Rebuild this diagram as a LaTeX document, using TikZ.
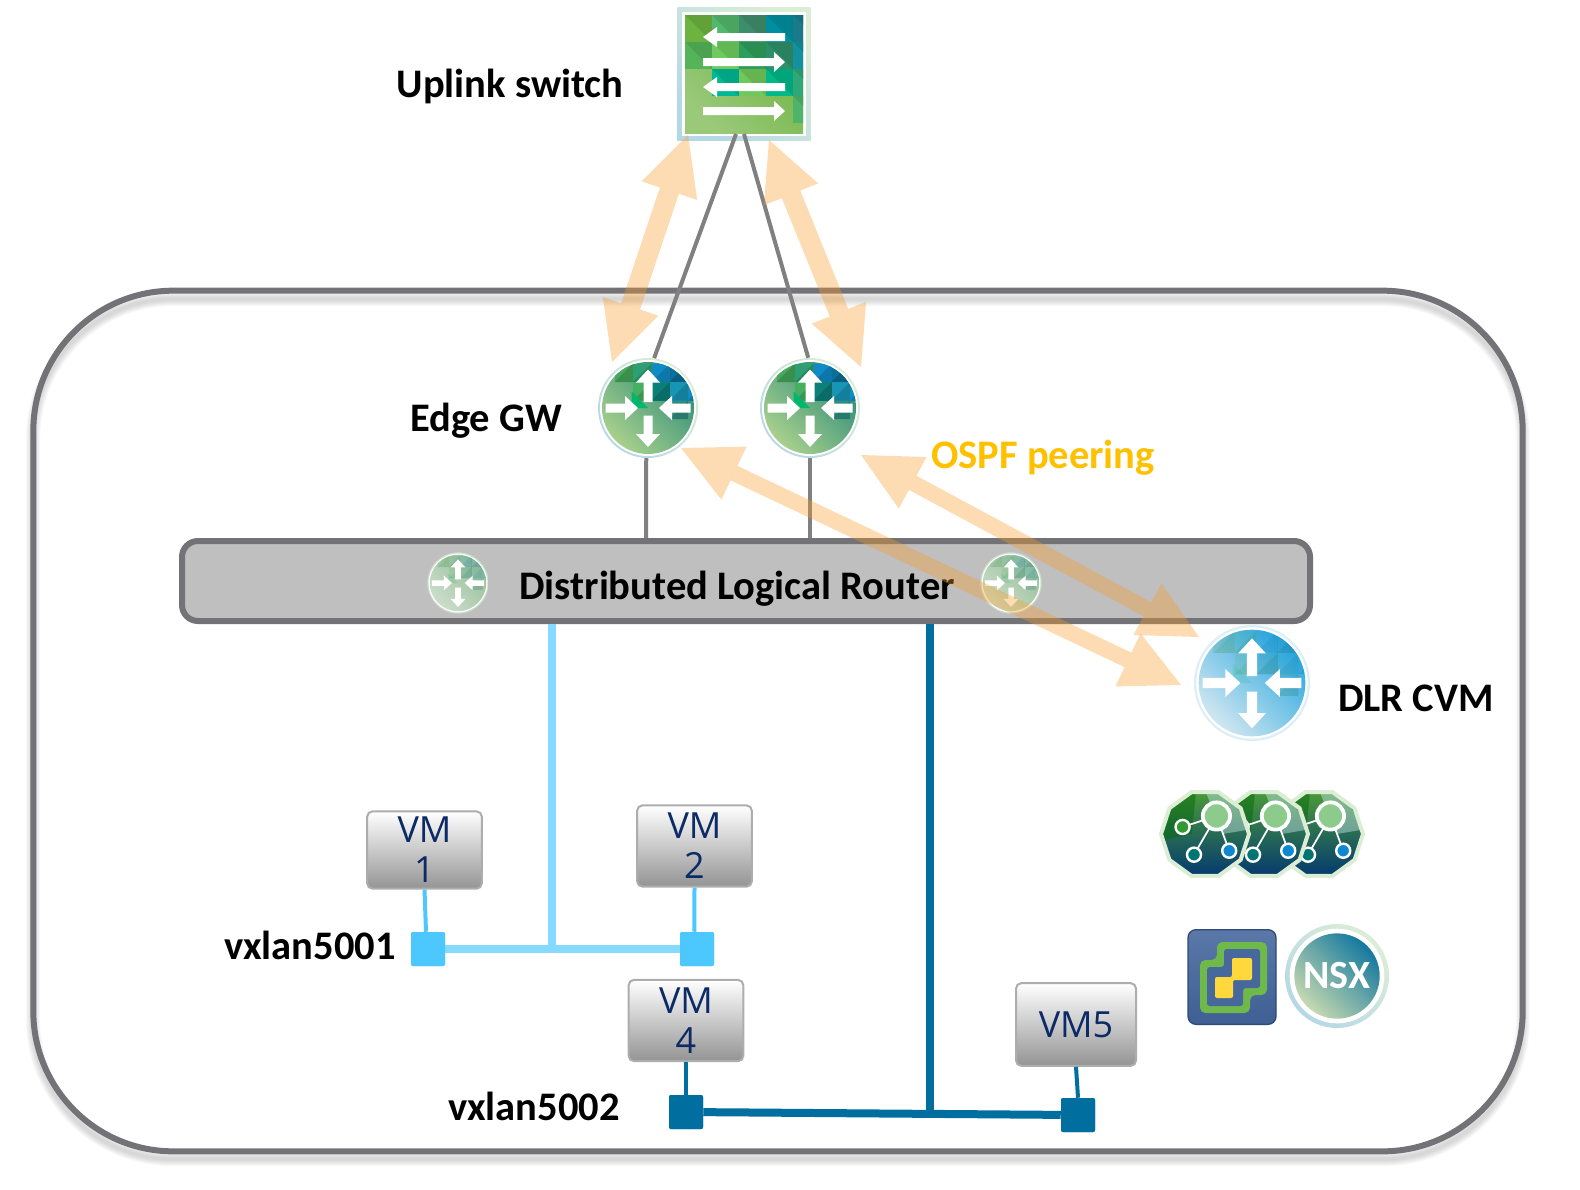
\documentclass[tikz,border=0pt]{standalone}
\usepackage{fontspec}
\setmainfont{Open Sans}
\newfontfamily\labelfont{Carlito}
\usetikzlibrary{arrows.meta,shapes.geometric}

\definecolor{frameGrey}{HTML}{737277}
\definecolor{wireGrey}{HTML}{808080}
\definecolor{boxGrey}{HTML}{BFBFBF}
\definecolor{peerOrange}{HTML}{F99B26}
\definecolor{ospfText}{HTML}{FFC000}
\definecolor{netLight}{HTML}{86D9FF}
\definecolor{portLight}{HTML}{4CC8FF}
\definecolor{netDark}{HTML}{006E9F}
\definecolor{vmText}{HTML}{0B2A66}
\definecolor{gwLow}{HTML}{A8D08D}
\definecolor{gwMid}{HTML}{6DB33F}
\definecolor{gwTop}{HTML}{2E8C78}
\definecolor{nsxTop}{HTML}{14789F}
\definecolor{nsxLow}{HTML}{C5D9B0}
\definecolor{ringBlue}{HTML}{B5D8E6}
\definecolor{ringGreen}{HTML}{DCEDD6}
\definecolor{fadeLow}{HTML}{CBDDCB}
\definecolor{fadeMid}{HTML}{B9D4B9}
\definecolor{fadeTop}{HTML}{98BF98}
\definecolor{cvmLow}{HTML}{CFE6F0}
\definecolor{cvmMid}{HTML}{A8D8E8}
\definecolor{cvmTop}{HTML}{2CA8E0}
\definecolor{cvmRing}{HTML}{DDEFF6}
\definecolor{vcLight}{HTML}{5A78A8}
\definecolor{vcDark}{HTML}{3F5F94}
\definecolor{vcInner}{HTML}{47689C}
\definecolor{vcEdge}{HTML}{2F4A78}
\definecolor{vcGreen}{HTML}{6FB84A}
\definecolor{vcYellow}{HTML}{FFD93B}
\definecolor{clTop}{HTML}{4A9A3A}
\definecolor{clMid}{HTML}{147F85}
\definecolor{clLow}{HTML}{043A70}

\newcommand{\routerface}[5]{
    \begin{scope}[shift={(path picture bounding box.center)},x=0.5*#1,y=0.5*#1]
        \fill[white] (0,0) circle (0.96);
        \shade[left color=#2,middle color=#3,right color=#4,shading angle=135] (0,0) circle (0.92);
        \begin{scope}[opacity=#5]
            \clip (0,0) circle (0.92);
            \foreach \mx/\my/\mc in {-0.67/0.52/46A85A,-0.3/0.52/2E9F72,0.07/0.52/0F8CC8,0.43/0.52/0A6F99,
                                     -0.3/0.15/45B060,0.07/0.15/0B7F78,0.43/0.15/1895B5,0.8/0.15/0F8CC2,0.43/-0.22/2F8F7F}{
                \definecolor{mosaic}{HTML}{\mc}
                \fill[mosaic] (\mx,\my) rectangle ++(0.37,0.37);
                \fill[mosaic!85!black] (\mx,\my) -- ++(0.37,0) -- ++(0,0.37) -- cycle;
            }
            \definecolor{mosaic}{HTML}{00B86B}
            \fill[mosaic] (-0.33,0.33) -- (0,0) -- (-0.33,0) -- cycle;
        \end{scope}
        \fill[white] (-0.85,-0.09) -- (-0.46,-0.09) -- (-0.46,-0.24) -- (-0.2,0) -- (-0.46,0.24) -- (-0.46,0.09) -- (-0.85,0.09) -- cycle;
        \fill[white] (0.85,-0.09) -- (0.48,-0.09) -- (0.48,-0.24) -- (0.22,0) -- (0.48,0.24) -- (0.48,0.09) -- (0.85,0.09) -- cycle;
        \fill[white] (-0.09,0.12) -- (-0.09,0.51) -- (-0.24,0.51) -- (0,0.77) -- (0.24,0.51) -- (0.09,0.51) -- (0.09,0.12) -- cycle;
        \fill[white] (-0.09,-0.15) -- (-0.09,-0.52) -- (-0.24,-0.52) -- (0,-0.78) -- (0.24,-0.52) -- (0.09,-0.52) -- (0.09,-0.15) -- cycle;
    \end{scope}
}
\newcommand{\clusterface}[1]{
    \begin{scope}[shift={(path picture bounding box.center)},x=0.5*#1,y=0.5*#1,white,line width=1.3pt]
        \fill[green!40!black,opacity=0.45] (-1,0.5) -- (-0.2,1) -- (-0.3,0) -- (-1,-0.15) -- cycle;
        \fill[cyan!15,opacity=0.4] (0,1) -- (0.6,0.85) -- (1,0.1) -- (0.4,0) -- cycle;
        \draw (0.26,0.41) -- (-0.51,0.16);
        \draw (0.26,0.41) -- (-0.25,-0.47);
        \draw (0.26,0.41) -- (0.55,-0.38);
        \fill[green!55!black!45!white,draw=white,line width=2.8pt] (0.26,0.41) circle (0.31);
        \fill[green!50!black!80!white,draw=white,line width=1.8pt] (-0.51,0.16) circle (0.16);
        \fill[teal!90!black,draw=white,line width=1.8pt] (-0.25,-0.47) circle (0.16);
        \fill[cyan!70!blue,draw=white,line width=1.8pt] (0.55,-0.38) circle (0.16);
    \end{scope}
}

\tikzset{
    x=0.75pt,y=-0.75pt,
    boldtext/.style={font=\labelfont\bfseries\fontsize{30.4pt}{32pt}\selectfont,anchor=base,inner sep=0},
    vmbox/.style={rectangle,rounded corners=4pt,draw=black!32,line width=1.5pt,top color=white,bottom color=black!42,
        text=vmText,align=center,inner sep=0,font=\fontsize{27pt}{30pt}\selectfont},
    port/.style={rectangle,rounded corners=1.5pt,inner sep=0,minimum size=25.5pt},
    wire/.style={draw=wireGrey,line width=3pt},
    peer/.style={draw=peerOrange,opacity=0.35,line width=#1,
        {Triangle[length=44pt,width=44pt,line width=0pt]}-{Triangle[length=44pt,width=44pt,line width=0pt]}},
    gwrouter/.style={circle,inner sep=0,minimum size=75pt,left color=ringBlue,right color=ringGreen,shading angle=135,
        path picture={\routerface{75pt}{gwLow}{gwMid}{gwTop}{1}}},
    fadedrouter/.style={circle,inner sep=0,minimum size=46pt,left color=fadeLow,right color=fadeLow,
        path picture={\routerface{46pt}{fadeLow}{fadeMid}{fadeTop}{0.15}}},
    cvmrouter/.style={circle,inner sep=0,minimum size=87pt,left color=cvmRing,right color=cvmRing,
        path picture={\routerface{87pt}{cvmLow}{cvmMid}{cvmTop}{0.15}}},
    clusternode/.style={regular polygon,regular polygon sides=10,inner sep=0,minimum size=66pt,draw=ringGreen,line width=3pt,
        top color=clTop,middle color=clMid,bottom color=clLow,
        path picture={\clusterface{66pt}}},
}

\begin{document}
\begin{tikzpicture}
    \useasboundingbox (0,0) rectangle (1580,1189);
    % outer frame
    \foreach \i in {1,...,7}{
        \draw[black,opacity=0.025,line width=1pt+\i*1.4pt,rounded corners=105pt] (33,299) rectangle (1523,1159);
    }
    \node[rectangle,draw=frameGrey,fill=none,line width=4.5pt,rounded corners=105pt,minimum width=1117pt,minimum height=645.5pt,inner sep=0] (frame) at (778,721) {};

    % uplink switch
    \node[rectangle,inner sep=0,minimum size=100pt,left color=ringBlue,right color=ringGreen,shading angle=135] (uplink) at (744,74) {};
    \fill[white] (682,12) rectangle (806,136);
    \shade[left color=gwLow!75!gwMid,middle color=gwMid,right color=gwMid,shading angle=135] (685,15) rectangle (803,133);
    \begin{scope}
        \clip (685,15) rectangle (803,133);
        \foreach \mx/\my/\mc in {0/0/6DB33F,1/0/52B86B,2/0/3F8E6B,3/0/008FA0,4/0/1A7A8A,
                                 0/1/55B45A,1/1/6FCB5F,2/1/2E9E5B,3/1/2E8F6B,4/1/1490A0,
                                 1/2/00B894,2/2/70C85A,3/2/00B888,4/2/2FA776,4/3/4FB36A}{
            \definecolor{mosaic}{HTML}{\mc}
            \fill[mosaic] (685+\mx*27,15+\my*27) rectangle ++(27,27);
            \fill[mosaic!90!black] (685+\mx*27,15+\my*27) -- ++(27,0) -- ++(0,27) -- cycle;
        }
    \end{scope}
    \fill[white] (785,33) -- (717,33) -- (717,27) -- (703,37) -- (717,47) -- (717,41) -- (785,41) -- cycle;
    \fill[white] (703,58) -- (774,58) -- (774,52) -- (785,62) -- (774,72) -- (774,66) -- (703,66) -- cycle;
    \fill[white] (785,83) -- (717,83) -- (717,77) -- (703,87) -- (717,97) -- (717,91) -- (785,91) -- cycle;
    \fill[white] (703,107) -- (774,107) -- (774,101) -- (785,111) -- (774,121) -- (774,115) -- (703,115) -- cycle;
    \node[boldtext] (uplinkText) at (510,97) {Uplink switch};

    % edge gateways
    \node[gwrouter] (gwOne) at (648,408) {};
    \node[gwrouter] (gwTwo) at (810,408) {};
    \node[boldtext] (gwText) at (486,431) {Edge GW};
    \coordinate (uplinkL) at (736,134);
    \coordinate (uplinkR) at (744,134);
    \draw[wire] (uplinkL) -- (gwOne.83);
    \draw[wire] (uplinkR) -- (gwTwo.92);

    % distributed router
    \draw[wire] (gwOne.268) -- (646,545);
    \draw[wire] (gwTwo.south) -- (810,545);
    \node[rectangle,draw=frameGrey,fill=boxGrey,line width=4.5pt,rounded corners=12pt,minimum width=846pt,minimum height=60pt,inner sep=0] (dlr) at (746,581) {};
    \node[fadedrouter] (dlrIconL) at (458,583) {};
    \node[fadedrouter] (dlrIconR) at (1011,583) {};
    \node[boldtext] (dlrText) at (737,599) {Distributed Logical Router};

    % control vm and logos
    \node[cvmrouter] (cvm) at (1252,683) {};
    \node[boldtext] (cvmText) at (1416,711) {DLR CVM};
    \node[clusternode] (clusterC) at (1319,834) {};
    \node[clusternode] (clusterB) at (1264,834) {};
    \node[clusternode] (clusterA) at (1205,834) {};
    \node[rectangle,rounded corners=6pt,inner sep=0,minimum width=66pt,minimum height=71pt,draw=vcEdge,line width=1pt,top color=vcLight,bottom color=vcDark] (vcenter) at (1232,977) {};
    \fill[vcGreen,rounded corners=4pt] (1217,942) -- (1267,942) -- (1267,995) -- (1250,995) -- (1250,1013) -- (1200,1013) -- (1200,960) -- (1217,960) -- cycle;
    \fill[vcInner,rounded corners=2pt] (1224,949) -- (1260,949) -- (1260,988) -- (1243,988) -- (1243,1006) -- (1207,1006) -- (1207,967) -- (1224,967) -- cycle;
    \fill[vcYellow,rounded corners=1.5pt] (1232,958) -- (1252,958) -- (1252,980) -- (1233,980) -- (1233,998) -- (1215,998) -- (1215,977) -- (1232,977) -- cycle;
    \node[circle,inner sep=0,minimum size=78pt,left color=ringBlue,right color=ringGreen,shading angle=135,text=white,
        font=\labelfont\bfseries\fontsize{30pt}{30pt}\selectfont,
        path picture={
            \fill[white] (path picture bounding box.center) circle (35.5pt);
            \shade[left color=nsxLow,middle color=gwMid,right color=nsxTop,shading angle=135] (path picture bounding box.center) circle (32pt);
        }] (nsx) at (1337,976) {NSX};

    % vxlan5001
    \node[vmbox,minimum width=86pt,minimum height=58pt] (vmOne) at (424.5,850) {VM\\1};
    \node[vmbox,minimum width=86pt,minimum height=61pt] (vmTwo) at (694.5,846) {VM\\2};
    \node[port,fill=portLight] (portOne) at (428,949) {};
    \node[port,fill=portLight] (portTwo) at (697,949) {};
    \coordinate (teeOne) at (552,949);
    \draw[netLight,line width=6pt] (portOne) -- (portTwo);
    \draw[netLight,line width=6pt] (dlr.south -| teeOne) -- (teeOne);
    \draw[portLight,line width=3pt] (vmOne.south) -- ([xshift=-1.5pt]portOne.north);
    \draw[portLight,line width=3pt] (vmTwo.south) -- ([xshift=-2pt]portTwo.north);
    \node[port,fill=portLight] (portOneTop) at (portOne) {};
    \node[port,fill=portLight] (portTwoTop) at (portTwo) {};
    \node[boldtext] (netOneText) at (310,959) {vxlan5001};

    % vxlan5002
    \node[vmbox,minimum width=86pt,minimum height=61pt] (vmFour) at (686,1020.5) {VM\\4};
    \node[vmbox,minimum width=90pt,minimum height=62pt] (vmFive) at (1076,1024.5) {VM5};
    \node[port,fill=netDark] (portFour) at (686,1112) {};
    \node[port,fill=netDark] (portFive) at (1078,1115) {};
    \coordinate (teeTwo) at (930,1113.5);
    \draw[netDark,line width=6pt] (portFour) -- (portFive);
    \draw[netDark,line width=5.5pt] (dlr.south -| teeTwo) -- (teeTwo);
    \draw[netDark,line width=3pt] (vmFour.south) -- (portFour.north);
    \draw[netDark,line width=3pt] (vmFive.south) -- (portFive.north);
    \node[port,fill=netDark] (portFourTop) at (portFour) {};
    \node[port,fill=netDark] (portFiveTop) at (portFive) {};
    \node[boldtext] (netTwoText) at (534,1120) {vxlan5002};

    % ospf peering
    \coordinate (peerUpA) at (688,135);
    \coordinate (peerGwA) at (612,362);
    \coordinate (peerUpB) at (769,140);
    \coordinate (peerGwB) at (861,367);
    \coordinate (peerGwC) at (681,448);
    \coordinate (peerCvmC) at (1181,685);
    \coordinate (peerGwD) at (861,455);
    \coordinate (peerCvmD) at (1199,637);
    \draw[peer=15pt] (peerUpA) -- (peerGwA);
    \draw[peer=15pt] (peerUpB) -- (peerGwB);
    \draw[peer=12pt] (peerGwC) -- (peerCvmC);
    \draw[peer=12pt] (peerGwD) -- (peerCvmD);
    \node[boldtext,text=ospfText] (peerText) at (1043,468) {OSPF peering};
\end{tikzpicture}
\end{document}
